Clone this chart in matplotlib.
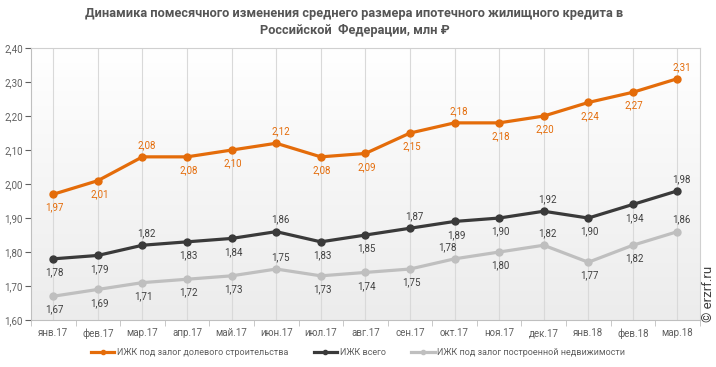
import matplotlib

matplotlib.use("Agg")
import matplotlib.pyplot as plt
import numpy as np
from matplotlib.lines import Line2D

plt.rcParams["font.family"] = ["Liberation Sans Narrow", "Roboto", "DejaVu Sans"]

months = ["янв.17", "фев.17", "мар.17", "апр.17", "май.17", "июн.17", "июл.17",
          "авг.17", "сен.17", "окт.17", "ноя.17", "дек.17", "янв.18", "фев.18", "мар.18"]
shared = [1.97, 2.01, 2.08, 2.08, 2.10, 2.12, 2.08, 2.09, 2.15, 2.18, 2.18, 2.20, 2.24, 2.27, 2.31]
total = [1.78, 1.79, 1.82, 1.83, 1.84, 1.86, 1.83, 1.85, 1.87, 1.89, 1.90, 1.92, 1.90, 1.94, 1.98]
built = [1.67, 1.69, 1.71, 1.72, 1.73, 1.75, 1.73, 1.74, 1.75, 1.78, 1.80, 1.82, 1.77, 1.82, 1.86]
# label placement: 1 = above the point, 0 = below
shared_up = [0, 0, 1, 0, 0, 1, 0, 0, 0, 1, 0, 0, 0, 0, 1]
total_up = [0, 0, 1, 0, 0, 1, 0, 0, 1, 0, 0, 1, 0, 0, 1]
built_up = [0, 0, 0, 0, 0, 1, 0, 0, 0, 1, 0, 1, 0, 0, 1]

_ORANGE = "#e46c0a"
_BLACK = "#3a3a3a"
_GRAY = "#bfbfbf"
_TEXT = "#606060"

fig = plt.figure(figsize=(7.16, 3.67), dpi=100)
ax = fig.add_axes([0.0433, 0.128, 0.934, 0.741])
x = np.arange(len(months))
ax.set_xlim(-0.5, len(months) - 0.5)
ax.set_ylim(1.60, 2.40)

# soft white-to-grey gradient behind the plot
grad = np.linspace(0, 1, 256).reshape(-1, 1)
ax.imshow(grad, cmap=matplotlib.colors.LinearSegmentedColormap.from_list(
    "bg", ["#ececec", "#ffffff"]), aspect="auto",
    extent=(-0.5, len(months) - 0.5, 1.60, 2.40), origin="lower", zorder=0)

for xi in x:
    ax.axvline(xi, color="#d9d9d9", linewidth=0.8, zorder=1)

series = [(shared, shared_up, _ORANGE, "ИЖК под залог долевого строительства"),
          (total, total_up, _BLACK, "ИЖК всего"),
          (built, built_up, _GRAY, "ИЖК под залог построенной недвижимости")]
for vals, ups, col, lab in series:
    ax.plot(x, vals, color=col, linewidth=2.3, marker="o", markersize=5, zorder=3)
    tcol = _ORANGE if col == _ORANGE else "#404040"
    for i, (xi, v, up) in enumerate(zip(x, vals, ups)):
        dx = 3 if up else 1
        if col == _GRAY and i == 9:
            dx = -5
        ax.annotate(f"{v:.2f}".replace(".", ","), (xi, v),
                    xytext=(dx, 5 if up else -6), textcoords="offset points",
                    ha="center", va="bottom" if up else "top", fontsize=7,
                    color=tcol, zorder=4)

ax.set_yticks(np.arange(1.60, 2.41, 0.10))
ax.set_yticklabels([f"{t:.2f}".replace(".", ",") for t in np.arange(1.60, 2.41, 0.10)])
ax.set_xticks(x)
ax.set_xticklabels(months)
ax.set_xticks(np.arange(-0.5, len(months), 1), minor=True)
ax.tick_params(axis="x", which="major", length=0, pad=6)
ax.tick_params(axis="x", which="minor", length=4, color="#bfbfbf")
ax.tick_params(axis="y", length=4, color="#bfbfbf", pad=2)
ax.tick_params(colors=_TEXT, labelsize=7)
for name, s in ax.spines.items():
    s.set_color("#d0d0d0" if name in ("top", "right") else "#bfbfbf")
    s.set_linewidth(0.8)

fig.suptitle("Динамика помесячного изменения среднего размера ипотечного жилищного кредита в\n"
             "Российской  Федерации, млн ₽", x=0.495, y=0.98, fontsize=9.2,
             fontweight="bold", color="#555555", linespacing=1.4)

handles = [Line2D([], [], color=c, linewidth=2.3, marker="o", markersize=3) for _, _, c, _ in series]
fig.legend(handles, [lab for *_, lab in series], loc="center", bbox_to_anchor=(0.5, 0.04),
           ncol=3, frameon=False, fontsize=6.5, handlelength=2.6, handletextpad=0.3,
           columnspacing=2.8, labelcolor=_TEXT)

fig.text(0.989, 0.20, "© erzrf.ru", rotation=90, ha="center", va="center",
         fontsize=9.5, color="#404040")

fig.savefig("out.png", dpi=100, facecolor="white")
